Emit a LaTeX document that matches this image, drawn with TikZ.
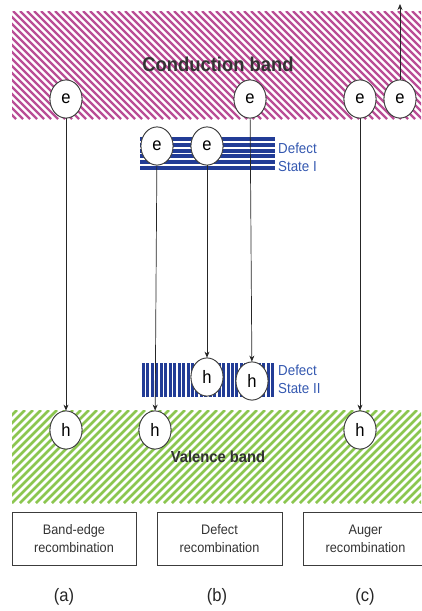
\documentclass[tikz,border=0pt]{standalone}
\usepackage{fontspec}
\setmainfont[FakeStretch=0.92]{Liberation Sans}
\usetikzlibrary{shapes.geometric,arrows.meta}
\definecolor{cbpink}{RGB}{186,78,150}
\definecolor{vbgreen}{RGB}{140,198,80}
\definecolor{defblue}{RGB}{34,60,150}
\definecolor{deftext}{RGB}{52,88,176}
\definecolor{rimgray}{RGB}{60,60,60}
\begin{document}
\begin{tikzpicture}[x=1pt,y=-1pt,
  carrier/.style={ellipse,draw=rimgray,line width=0.8pt,fill=white,
    minimum width=32pt,minimum height=38pt,inner sep=0pt,font=\fontsize{18}{18}\selectfont},
  trans/.style={draw=black!85,line width=0.7pt,-{Stealth[length=6pt,width=5pt]}},
  labelbox/.style={draw=rimgray,line width=0.7pt,align=center,text=black!80,
    font=\fontsize{13.8}{18}\selectfont,inner sep=0pt},
  deflabel/.style={anchor=west,align=left,text=deftext,inner sep=0pt,
    font=\fontsize{14.5}{18}\selectfont}]
\useasboundingbox (0,0) rectangle (421,611);

% conduction band: diagonal stripes
\begin{scope}
  \clip (12,11) rectangle (421,119);
  \foreach \s in {-120,-113,...,430}
    \draw[cbpink,line width=2.4pt] (\s,11) -- (\s+108,119);
\end{scope}
\node[font=\fontsize{20}{20}\selectfont\bfseries,text=black!80] (cbl) at (218,64) {Conduction band};

% valence band: diagonal stripes
\begin{scope}
  \clip (12,410) rectangle (421,503);
  \foreach \s in {-100,-92,...,440}
    \draw[vbgreen,line width=2.8pt] (\s,503) -- (\s+93,410);
\end{scope}
\node[font=\fontsize{16}{16}\selectfont\bfseries,text=black!80] (vbl) at (218,457) {Valence band};

% defect state I: horizontal bars
\foreach \k in {0,...,5}
  \fill[defblue] (140,137+5.8*\k) rectangle (275,137+5.8*\k+4);
\node[deflabel] (ds1) at (278,157) {Defect\\State I};

% defect state II: vertical bars
\foreach \k in {0,...,29}
  \fill[defblue] (142+4.45*\k,363) rectangle (142+4.45*\k+3,397);
\node[deflabel] (ds2) at (278,379) {Defect\\State II};

% carriers
\node[carrier] (ea)  at (66,99)   {e};
\node[carrier] (eb)  at (250,99)  {e};
\node[carrier] (ec1) at (360,99)  {e};
\node[carrier] (ec2) at (400,99)  {e};
\node[carrier] (ed1) at (157,146) {e};
\node[carrier] (ed2) at (207,146) {e};
\node[carrier] (hd1) at (207,377) {h};
\node[carrier] (hd2) at (252,381) {h};
\node[carrier] (ha)  at (66,430)  {h};
\node[carrier] (hb)  at (155,430) {h};
\node[carrier] (hc)  at (360,430) {h};
\coordinate (out) at (400,4);

% transitions
\draw[trans] (ea) -- (ha);
\draw[trans] (ed1) -- (hb);
\draw[trans] (ed2) -- (hd1);
\draw[trans] (eb) -- (hd2);
\draw[trans] (ec1) -- (hc);
\draw[trans] (ec2) -- (out);

% redraw carriers on top of the connectors
\foreach \n/\x/\y/\t in {ea/66/99/e,eb/250/99/e,ec1/360/99/e,ec2/400/99/e,ed1/157/146/e,ed2/207/146/e,hd1/207/377/h,hd2/252/381/h,ha/66/430/h,hb/155/430/h,hc/360/430/h}
  \node[carrier] at (\x,\y) {\t};

% mechanism boxes
\node[labelbox,minimum width=124pt,minimum height=53pt] (ba) at (74,538.5) {Band-edge\\recombination};
\node[labelbox,minimum width=125pt,minimum height=53pt] (bb) at (219.5,538.5) {Defect\\recombination};
\node[labelbox,minimum width=125pt,minimum height=53pt] (bc) at (365.5,538.5) {Auger\\recombination};

\node[font=\fontsize{18}{18}\selectfont,text=black!85] (la) at (64,597) {(a)};
\node[font=\fontsize{18}{18}\selectfont,text=black!85] (lb) at (217,597) {(b)};
\node[font=\fontsize{18}{18}\selectfont,text=black!85] (lc) at (365,597) {(c)};
\end{tikzpicture}
\end{document}
